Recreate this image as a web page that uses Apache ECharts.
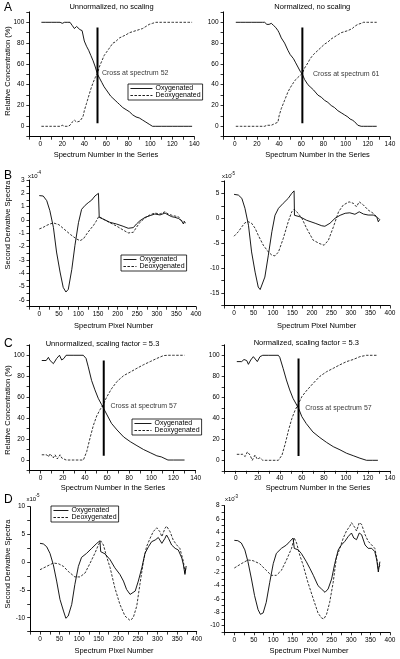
<!DOCTYPE html>
<html><head><meta charset="utf-8">
<script src="https://cdn.jsdelivr.net/npm/echarts@6/dist/echarts.min.js"></script>
<style>html,body{margin:0;padding:0;background:#fff}#c{width:400px;height:659px}</style>
</head><body><div id="c"></div>
<script>
// ---------- DATA ----------
const seriesNames = ['Oxygenated', 'Deoxygenated'];
const panelTitles = ['Unnormalized, no scaling', 'Normalized, no scaling', '', '', 'Unnormalized, scaling factor = 5.3', 'Normalized, scaling factor = 5.3', '', ''];
const crossSpectrum = [52, 61, 57, 57];
const crossLineLow = [3, 3, 4, 4];
const crossLineHigh = [95, 95, 95, 97];
const crossLabelAt = [[56, 51.5], [70.5, 50.3], [63, 51.6], [63, 50.2]];
const exponentLabels = ['-4', '-5', '-5', '-3'];

// Panel A (left) – unnormalized, no scaling
const aL_x = [1,5,10,15,18,20,22,25,27,29,31,33,34,36,38,39,40,42,44,46,48,50,52,54,56,58,60,62,64,66,68,70,72,75,78,81,84,87,90,93,96,99,102,105,110,115,120,125,130,135,138];
const aL_oxy = [100,100,100,100,100,99,100,100,100,97,94,96,97,93,92,91,82,77,73,68,63,57,50,46,42,38,35,32,29,27,25,23,21,18,16,14,11,9,8,6,4,2,0,0,0,0,0,0,0,0,0];
const aL_deoxy = [0,0,0,0,0,1,0,0,1,4,6,4,4,5,8,10,15,22,29,36,42,47,51,58,63,68,71,74,77,80,81,83,85,86.5,88,90,91,92,93,94,96,98,99,100,100,100,100,100,100,100,100];

// Panel A (right) – normalized, no scaling
const aR_x = [1,5,10,15,20,25,27,29,31,33,35,37,39,40,42,45,48,50,53,55,57,59,61,63,66,68,71,75,78,81,84,87,90,93,96,99,102,104,106,108,111,114,116,120,124,128];
const aR_oxy = [100,100,100,100,100,100,100,98,98,99,97,95,92,90,85,80,73,69,65,61,57,53,50,45,40,38,35,30,28,25,23,20,18,15,13,11,9,7,6,4.5,1,0,0,0,0,0];
const aR_deoxy = [0,0,0,0,0,0,0,1,1,1,2,3,4,10,17,25,33,37,42,45,47,49,51,56,61,65,69,73,76,79,81,84,86,88,90,91,92,93,94,96,98,99,100,100,100,100];

// Panel B (left) – second derivative, x10^-4
const bL_oxyX = [0,10,19,27,36,44,53,61,68,74,83,91,100,108,117,125,134,142,151,152,153,163,180,197,214,227,231,240,248,257,270,283,295,308,321,329,338,346,355,363,368,370,373];
const bL_oxy = [1.83,1.8,1.45,0.7,-0.55,-2.4,-3.9,-5.05,-5.4,-5.2,-3.7,-1.9,-0.2,0.8,1.1,1.3,1.5,1.8,2.0,2.05,0.2,0.07,-0.17,-0.3,-0.47,-0.62,-0.67,-0.57,-0.3,-0.05,0.2,0.33,0.45,0.38,0.52,0.38,0.25,0.2,0.12,-0.05,-0.3,-0.12,-0.2];
const bL_deoxyX = [0,10,19,27,36,40,50,60,70,80,95,104,113,121,130,138,145,152,163,180,197,214,227,231,240,248,257,270,283,295,308,321,329,342,355,363,370,373];
const bL_deoxy = [-0.67,-0.55,-0.4,-0.3,-0.22,-0.2,-0.35,-0.6,-0.85,-1.1,-1.42,-1.55,-1.4,-1.05,-0.7,-0.42,-0.1,0.27,0.07,-0.2,-0.45,-0.75,-0.97,-1.05,-0.92,-0.55,-0.17,0.15,0.4,0.52,0.45,0.62,0.45,0.32,0.25,-0.05,-0.12,-0.2];

// Panel B (right) – second derivative, x10^-5
const bR_oxyX = [0,11,20,28,37,45,54,62,67,71,79,88,97,105,114,126,139,148,154,155,169,186,208,225,233,246,259,272,285,297,310,321,332,344,357,366,370,374];
const bR_oxy = [4.8,4.66,4.0,2.0,-1.4,-6.75,-10.8,-13.8,-14.3,-14.1,-11.8,-7.4,-2.7,0.6,2.0,3.0,4.0,5.0,5.5,0.6,0.3,-0.4,-1.0,-1.5,-1.6,-1.0,0,0.6,1.0,1.1,0.8,1.3,0.85,0.65,0.65,0.3,-0.7,-0.2];
const bR_deoxyX = [0,11,20,28,37,45,54,62,75,88,97,105,114,126,139,148,154,161,174,186,203,220,231,242,255,268,280,295,306,314,321,332,344,357,370,374];
const bR_deoxy = [-3.6,-2.7,-1.7,-0.9,-0.7,-1.0,-2.0,-3.4,-5.4,-6.75,-7.4,-7.55,-6.75,-4.1,-0.7,1.3,1.8,1.3,0,-2.0,-4.4,-5.1,-5.4,-4.4,-1.7,1.3,2.65,3.3,3.0,2.3,3.3,2.65,1.65,1.0,0,-0.2];

// Panel C (left) – unnormalized, scaling factor 5.3
const cL_oxyX = [1,5,7,8.5,10,11.5,14.5,17,19,21,23,30,38.5,41,43,46,49,52,55,57,60,64,69,75,81,87,93,99,105,109,115,120,125,130];
const cL_oxy = [95,95,98,95,96,92,97,100,95.5,97,100,100,100,97,89,76,67,59,53,49,43,35,28.7,22,17.5,13.7,10,7,4,3,0,0,0,0];
const cL_deoxyX = [1,5.4,7,8.4,10,11.4,13,15,17.5,19,20.5,23,30,38.6,41.6,44.6,47.6,50.6,53.6,56.6,59.6,64,69,75,81,87,93,99,105,111,115,120,125,130];
const cL_deoxy = [5,5,3,6,7,2,5,1,5,2,3,0,0,0,8,21,33,42,48,53,60,68,75,80.6,84,87.6,91,94,97,99.7,100,100,100,100];

// Panel C (right) – normalized, scaling factor 5.3
const cR_oxyX = [1,5.4,7.5,10,11.5,13.6,16,17.5,19.6,22,24.5,30,38.7,40,43,46,49,52,57,60,64,70,76.4,82.5,88.5,94.6,100.6,106.6,112.7,118.7,124,129];
const cR_oxy = [94,94,96,95,91.4,95.5,98.7,98.7,94,98.7,100,100,100,98,87.6,76.5,67,59,49.5,41.6,35,27,21.6,17,13,10,6.7,4.4,2,0,0,0];
const cR_deoxyX = [1,6.3,8.5,10.6,13,15,17.5,19.6,22,24.5,30,38.7,42,45,48,51,54,57,60,64,70,76.4,82.5,88.5,94.6,100.6,106.6,112.7,118.7,124,129];
const cR_deoxy = [5.7,5.7,3.5,8,5,0,5,1,2.5,0,0,0,5,16,29,40,48,54,60.6,66,73,80,84.4,87.6,91,94,96,98.7,100,100,100];

// Panel D (left) – second derivative, x10^-5
const dL_oxyX = [0,8.5,17,25.5,34,42.5,51,60,66,72,81,89,98,106,119,132,145,153,155,166,179,191,204,213,221,230,234,243,251,260,268,277,285,294,302,306,311,319,323,328,336,345,353,362,366,370,373];
const dL_oxy = [3.4,3.3,2.8,1.6,-0.45,-3.4,-6.7,-8.8,-10.1,-9.7,-7.6,-4.0,-0.75,0.87,1.6,2.5,3.4,3.85,1.9,1.5,0.45,-1.0,-2.2,-3.4,-4.9,-5.8,-6.1,-5.2,-3.4,-1.0,1.6,2.8,3.7,4.0,4.45,4.0,3.4,4.3,4.9,4.3,3.1,2.5,2.2,0.75,-0.45,-2.2,-0.75];
const dL_deoxyX = [0,17,34,47,60,72,89,102,115,128,140,149,155,162,170,179,191,204,217,230,238,247,255,264,272,281,289,298,306,311,319,323,332,340,349,357,366,370,373];
const dL_deoxy = [-1.35,-0.75,-0.15,-0.27,-0.75,-1.65,-2.65,-2.65,-1.95,-0.15,1.6,3.1,3.85,3.1,1.0,-1.0,-4.6,-7.6,-9.7,-10.5,-10.0,-7.9,-4.0,0.15,2.8,4.3,5.5,6.2,5.5,4.6,6.1,6.5,5.5,4.0,3.1,2.5,0.15,-1.9,-0.75];

// Panel D (right) – second derivative, x10^-3
const dR_oxyX = [0,9,18,27,35,44,52,61,67,74,82,91,100,108,121,134,142,151,154,164,172,185,194,203,215,224,233,241,250,258,267,275,284,293,301,307,314,321,327,336,344,353,361,366,370,374];
const dR_oxy = [2.8,2.75,2.4,1.37,-0.4,-3.0,-5.5,-7.6,-8.3,-8.1,-6.5,-3.5,-0.7,0.85,1.6,2.1,2.6,3.15,1.6,1.37,0.85,-0.4,-1.4,-2.45,-4.0,-4.5,-5.0,-4.5,-3.0,-0.7,1.37,2.1,2.65,3.4,3.9,3.15,2.9,3.9,3.65,2.1,1.6,1.6,1.1,-0.15,-1.95,-0.4];
const dR_deoxyX = [0,18,35,48,65,82,95,108,121,134,147,154,160,168,177,189,203,215,224,230,237,245,254,262,271,280,288,297,301,310,314,321,327,336,344,353,361,366,370,374];
const dR_deoxy = [-1.35,-0.7,-0.15,-0.25,-0.7,-1.7,-2.45,-2.45,-1.7,-0.15,1.6,3.15,2.4,0.6,-0.95,-3.5,-6.0,-8.1,-8.85,-9.0,-8.3,-6.5,-3.5,0.1,1.6,3.15,4.2,4.95,5.45,4.7,4.2,5.45,5.2,3.65,2.65,2.1,1.6,0.1,-1.45,-0.95];

// ---------- LAYOUT ----------
const FONT = '"Liberation Sans", Arial, sans-serif';
const conc = {min:-10, max:110, step:10, lab:20};
const seriesX = {min:-10, max:140, step:10, lab:20};
const pixX = {min:-25, max:400, step:25, lab:50};

const panels = [
  {grid:{left:29.3, top:11.9, width:165, height:124.8}, x:seriesX, y:conc, oxy:[aL_x,aL_oxy], de:[aL_x,aL_deoxy]},
  {grid:{left:223.6, top:11.9, width:166.4, height:124.8}, x:seriesX, y:conc, oxy:[aR_x,aR_oxy], de:[aR_x,aR_deoxy]},
  {grid:{left:29.5, top:180, width:166.5, height:126.7}, x:pixX, y:{min:-6.5,max:3,step:0.5,lab:1}, oxy:[bL_oxyX,bL_oxy], de:[bL_deoxyX,bL_deoxy]},
  {grid:{left:224.3, top:180.9, width:165.7, height:124.6}, x:pixX, y:{min:-17.5,max:7.5,step:2.5,lab:5}, oxy:[bR_oxyX,bR_oxy], de:[bR_deoxyX,bR_deoxy]},
  {grid:{left:29.6, top:344.8, width:166, height:125.7}, x:seriesX, y:conc, oxy:[cL_oxyX,cL_oxy], de:[cL_deoxyX,cL_deoxy]},
  {grid:{left:224.7, top:344.8, width:165.3, height:126}, x:seriesX, y:conc, oxy:[cR_oxyX,cR_oxy], de:[cR_deoxyX,cR_deoxy]},
  {grid:{left:30.2, top:506.7, width:166.5, height:124.9}, x:pixX, y:{min:-12.5,max:10,step:2.5,lab:5}, oxy:[dL_oxyX,dL_oxy], de:[dL_deoxyX,dL_deoxy]},
  {grid:{left:224.6, top:505.7, width:165.4, height:126.6}, x:pixX, y:{min:-11,max:8,step:1,lab:2}, oxy:[dR_oxyX,dR_oxy], de:[dR_deoxyX,dR_deoxy]}
];

const isMult = (v, s) => Math.abs(v / s - Math.round(v / s)) < 1e-6;
const zip = (xs, ys) => xs.map((x, i) => [x, ys[i]]);

const grids = [], xAxes = [], yAxes = [], series = [];
const axisCommon = {
  axisLine: {onZero: false, lineStyle: {color: '#000', width: 1}},
  axisTick: {show: true, inside: false, length: 3, lineStyle: {color: '#000', width: 0.8}},
  splitLine: {show: false}
};
panels.forEach((p, i) => {
  grids.push(Object.assign({containLabel: false}, p.grid));
  xAxes.push(Object.assign({}, axisCommon, {
    type: 'value', gridIndex: i, min: p.x.min, max: p.x.max, interval: p.x.step,
    axisLabel: {fontSize: 6.5, fontFamily: FONT, color: '#000', margin: 4,
      formatter: v => isMult(v, p.x.lab) ? String(Math.round(v)) : ''}
  }));
  yAxes.push(Object.assign({}, axisCommon, {
    type: 'value', gridIndex: i, min: p.y.min, max: p.y.max, interval: p.y.step,
    axisLabel: {fontSize: 6.5, fontFamily: FONT, color: '#000', margin: 5,
      formatter: v => isMult(v, p.y.lab) ? String(Math.round(v)) : ''}
  }));
  series.push({type: 'line', name: seriesNames[0], xAxisIndex: i, yAxisIndex: i, data: zip(p.oxy[0], p.oxy[1]),
    symbol: 'none', lineStyle: {color: '#000', width: 0.9, type: 'solid'}, itemStyle: {color: '#000'}, animation: false});
  series.push({type: 'line', name: seriesNames[1], xAxisIndex: i, yAxisIndex: i, data: zip(p.de[0], p.de[1]),
    symbol: 'none', lineStyle: {color: '#000', width: 0.8, type: [2.5, 1.5]}, itemStyle: {color: '#000'}, animation: false});
});

// crossing lines and labels on the concentration panels (0,1,4,5)
[0, 1, 4, 5].forEach((pi, k) => {
  series.push({type: 'line', xAxisIndex: pi, yAxisIndex: pi, symbol: 'none', silent: true, animation: false,
    data: [[crossSpectrum[k], crossLineLow[k]], [crossSpectrum[k], crossLineHigh[k]]],
    lineStyle: {color: '#000', width: 2}});
  series.push({type: 'scatter', xAxisIndex: pi, yAxisIndex: pi, symbolSize: 0, silent: true, animation: false,
    data: [crossLabelAt[k]],
    label: {show: true, position: 'right', distance: 0, formatter: 'Cross at spectrum ' + crossSpectrum[k],
      fontSize: 7, fontFamily: FONT, color: '#000'}});
});

const legendBase = {orient: 'vertical', data: seriesNames, selectedMode: false, itemGap: 0,
  itemHeight: 6, padding: [1, 2, 1, 2], borderColor: '#000', borderWidth: 0.8, backgroundColor: '#fff',
  itemStyle: {opacity: 0},
  lineStyle: {width: 0.9},
  textStyle: {fontSize: 7, fontFamily: FONT, color: '#000', padding: [0, 0, 0, -2]}};
const legends = [
  Object.assign({}, legendBase, {left: 128, top: 84, itemWidth: 22}),
  Object.assign({}, legendBase, {left: 121, top: 255, itemWidth: 13}),
  Object.assign({}, legendBase, {left: 132, top: 419, itemWidth: 17}),
  Object.assign({}, legendBase, {left: 51, top: 506, itemWidth: 15})
];

function txt(text, x, y, size, opt) {
  opt = opt || {};
  return {type: 'text', x: x, y: y, rotation: opt.rot || 0, silent: true,
    style: {text: text, fontSize: size, fontFamily: FONT, fill: '#000',
      align: opt.align || 'center', verticalAlign: opt.va || 'middle'}};
}
const graphics = [
  txt('A', 4, 8, 12, {align: 'left'}),
  txt('B', 4, 176, 12, {align: 'left'}),
  txt('C', 4, 344, 12, {align: 'left'}),
  txt('D', 4, 500, 12, {align: 'left'}),
  txt(panelTitles[0], 111.5, 7, 7.5),
  txt(panelTitles[1], 312.3, 7, 7.5),
  txt(panelTitles[4], 102.5, 343.5, 7.5),
  txt(panelTitles[5], 306.3, 343, 7.5),
  txt('Spectrum Number in the Series', 106, 155, 7.5),
  txt('Spectrum Number in the Series', 317.5, 155, 7.5),
  txt('Spectrum Pixel Number', 113.7, 325.5, 7.5),
  txt('Spectrum Pixel Number', 316.7, 325.5, 7.5),
  txt('Spectrum Number in the Series', 113, 488, 7.5),
  txt('Spectrum Number in the Series', 318, 488, 7.5),
  txt('Spectrum Pixel Number', 114, 651, 7.5),
  txt('Spectrum Pixel Number', 309, 651, 7.5),
  txt('Relative Concentration (%)', 7.5, 71, 7.5, {rot: Math.PI / 2}),
  txt('Second Derivative Spectra', 7.5, 225, 7.5, {rot: Math.PI / 2}),
  txt('Relative Concentration (%)', 7.5, 410, 7.5, {rot: Math.PI / 2}),
  txt('Second Derivative Spectra', 7.5, 564, 7.5, {rot: Math.PI / 2}),
  // exponent labels
  txt('x10', 28, 176, 6, {align: 'left'}), txt(exponentLabels[0], 37, 173, 4.5, {align: 'left'}),
  txt('x10', 222, 176.5, 6, {align: 'left'}), txt(exponentLabels[1], 231, 173.5, 4.5, {align: 'left'}),
  txt('x10', 26.5, 499, 6, {align: 'left'}), txt(exponentLabels[2], 35.5, 496, 4.5, {align: 'left'}),
  txt('x10', 225, 499.5, 6, {align: 'left'}), txt(exponentLabels[3], 234, 496.5, 4.5, {align: 'left'})
];

const chart = echarts.init(document.getElementById('c'), null, {renderer: 'canvas', width: 400, height: 659});
chart.setOption({
  animation: false,
  backgroundColor: '#fff',
  grid: grids, xAxis: xAxes, yAxis: yAxes, series: series,
  legend: legends, graphic: graphics
});
</script>
</body></html>
